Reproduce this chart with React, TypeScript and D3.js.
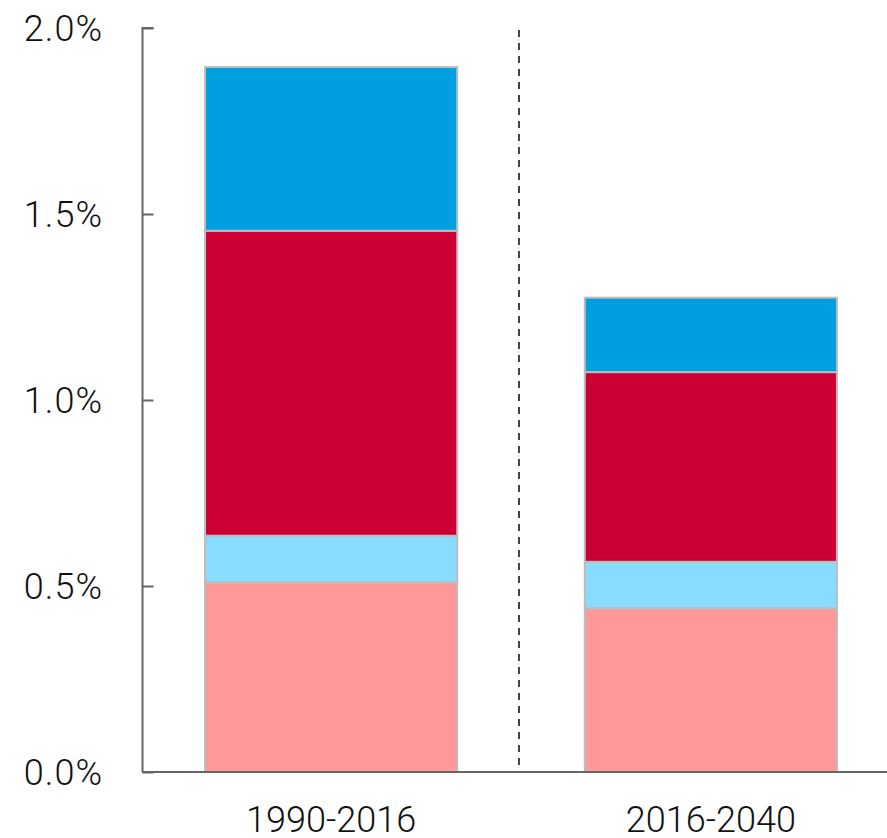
import React, { useRef, useEffect } from 'react';
import * as d3 from 'd3';

const periods = ['1990-2016', '2016-2040'];
const seriesKeys = ['s1', 's2', 's3', 's4'];
const s1 = [0.51, 0.44];
const s2 = [0.125, 0.125];
const s3 = [0.82, 0.51];
const s4 = [0.44, 0.2];
const colors = ['#ff9999', '#88dcff', '#cc0033', '#009fdf'];
const yTicks = [0, 0.5, 1.0, 1.5, 2.0];

const width = 887;
const height = 838;

const App = () => {
  const svgRef = useRef<SVGSVGElement>(null);

  useEffect(() => {
    const svg = d3.select(svgRef.current);
    svg.selectAll('*').remove();

    const rows = periods.map((p, i) => ({ period: p, s1: s1[i], s2: s2[i], s3: s3[i], s4: s4[i] }));
    const stacked = d3.stack<any>().keys(seriesKeys)(rows);

    const x = d3.scaleBand().domain(periods).range([142, 900]).paddingInner(0.336).paddingOuter(0.166);
    const y = d3.scaleLinear().domain([0, 2]).range([772, 28]);

    const font = 'Roboto, "Liberation Sans", Arial, sans-serif';

    // bars
    stacked.forEach((layer, li) => {
      svg
        .append('g')
        .selectAll('rect')
        .data(layer)
        .enter()
        .append('rect')
        .attr('x', (d: any) => x(d.data.period)!)
        .attr('width', x.bandwidth())
        .attr('y', (d) => y(d[1]))
        .attr('height', (d) => y(d[0]) - y(d[1]))
        .attr('fill', colors[li])
        .attr('stroke', '#bdbdbd')
        .attr('stroke-width', 2);
    });

    // divider between periods
    const midX = (x(periods[0])! + x.bandwidth() + x(periods[1])!) / 2 - 2;
    svg
      .append('line')
      .attr('x1', midX)
      .attr('x2', midX)
      .attr('y1', 30)
      .attr('y2', 772)
      .attr('stroke', '#444')
      .attr('stroke-width', 2)
      .attr('stroke-dasharray', '7,6');

    // y axis
    const yAxis = svg
      .append('g')
      .attr('transform', 'translate(142.5,0)')
      .call(
        d3
          .axisRight(y)
          .tickValues(yTicks)
          .tickSize(11)
          .tickFormat(() => '')
      );
    yAxis.selectAll('path').attr('stroke', '#666').attr('stroke-width', 2).attr('d', 'M11,28H0V772');
    yAxis.selectAll('line').attr('stroke', '#666').attr('stroke-width', 2);

    svg
      .append('g')
      .selectAll('text')
      .data(yTicks)
      .enter()
      .append('text')
      .attr('x', 103)
      .attr('y', (d) => y(d) + 13)
      .attr('text-anchor', 'end')
      .attr('font-family', font)
      .attr('font-weight', 300)
      .attr('letter-spacing', 1)
      .attr('font-size', 36)
      .attr('fill', '#111')
      .text((d) => d3.format('.1f')(d) + '%');

    // x baseline
    svg
      .append('line')
      .attr('x1', 142)
      .attr('x2', width)
      .attr('y1', 772)
      .attr('y2', 772)
      .attr('stroke', '#666')
      .attr('stroke-width', 2);

    svg
      .append('g')
      .selectAll('text')
      .data(periods)
      .enter()
      .append('text')
      .attr('x', (d) => x(d)! + x.bandwidth() / 2)
      .attr('y', 832)
      .attr('text-anchor', 'middle')
      .attr('font-family', font)
      .attr('font-weight', 300)
      .attr('font-size', 36)
      .attr('fill', '#111')
      .text((d) => d);
  }, []);

  return (
    <div style={{ position: 'absolute', left: 0, top: 0 }}>
      <svg ref={svgRef} width={width} height={height} style={{ display: 'block' }}></svg>
    </div>
  );
};

export default App;
